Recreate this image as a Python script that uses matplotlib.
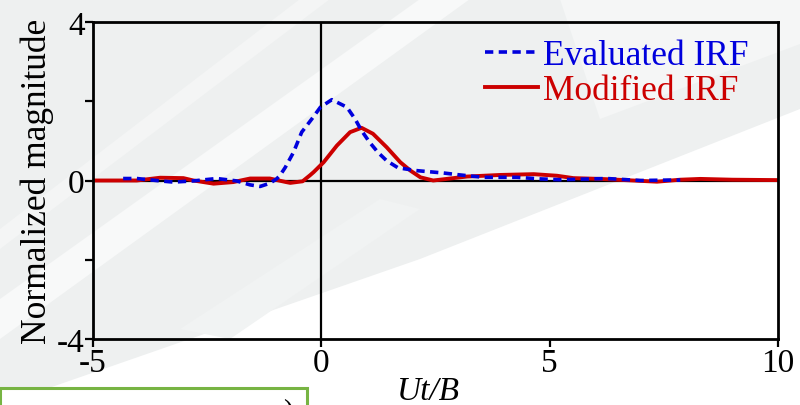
import matplotlib.pyplot as plt
import matplotlib.patches as mpatches
import numpy as np

plt.rcParams['font.family'] = ['Liberation Serif', 'DejaVu Serif']
plt.rcParams['axes.unicode_minus'] = False

# evaluated IRF (blue dashed)
t_eval = [-4.34, -4.04, -3.53, -3.24, -2.8, -2.29, -1.86, -1.56, -1.34, -1.13, -0.98, -0.91,
          -0.79, -0.61, -0.43, -0.21, -0.02, 0.23, 0.56, 0.74, 0.88, 1.06, 1.24, 1.43, 1.68,
          2.08, 2.67, 3.04, 3.55, 4.28, 4.8, 5.23, 6.25, 6.99, 7.57, 7.86]
y_eval = [0.05, 0.05, -0.01, -0.04, -0.01, 0.05, -0.01, -0.11, -0.15, -0.07, 0.04, 0.12,
          0.33, 0.71, 1.22, 1.55, 1.85, 2.04, 1.85, 1.55, 1.26, 0.96, 0.71, 0.50, 0.32,
          0.25, 0.19, 0.14, 0.08, 0.08, 0.04, 0.02, 0.05, 0.0, 0.01, 0.01]

# modified IRF (red solid)
t_mod = [-5.0, -4.04, -3.53, -3.02, -2.8, -2.36, -1.93, -1.56, -1.13, -0.77, -0.68, -0.41,
         -0.25, -0.17, 0.05, 0.34, 0.63, 0.88, 1.13, 1.43, 1.73, 1.95, 2.17, 2.45, 3.19, 3.92,
         4.65, 5.16, 5.52, 6.11, 6.83, 7.35, 7.86, 8.3, 9.0, 10.0]
y_mod = [0.0, 0.0, 0.07, 0.06, 0.0, -0.08, -0.04, 0.05, 0.05, -0.04, -0.06, -0.02,
         0.13, 0.21, 0.46, 0.88, 1.22, 1.33, 1.18, 0.84, 0.46, 0.25, 0.08, 0.0, 0.1, 0.14,
         0.16, 0.12, 0.06, 0.04, 0.0, -0.03, 0.02, 0.04, 0.02, 0.01]

fig = plt.figure(figsize=(8, 4.06), dpi=100)
fig.patch.set_facecolor('white')

# faded photo-like background, drawn in a back layer
bg = fig.add_axes([0, 0, 1, 1], zorder=0)
bg.set_xlim(0, 800)
bg.set_ylim(406, 0)
bg.axis('off')
bg.add_patch(mpatches.Polygon([(0, 0), (800, 0), (800, 110), (420, 260), (0, 406)],
                              facecolor='#eef0f0', edgecolor='none'))
bg.add_patch(mpatches.Polygon([(0, 300), (0, 340), (470, 0), (420, 0)],
                              facecolor='#f8f9f9', edgecolor='none'))
bg.add_patch(mpatches.Polygon([(0, 230), (0, 250), (330, 0), (300, 0)],
                              facecolor='#f4f5f5', edgecolor='none'))
bg.add_patch(mpatches.Polygon([(560, 0), (800, 0), (800, 45), (600, 120)],
                              facecolor='#f5f6f6', edgecolor='none'))
bg.add_patch(mpatches.Polygon([(180, 330), (380, 200), (420, 210), (230, 340)],
                              facecolor='#f1f3f3', edgecolor='none'))

ax = fig.add_axes([93 / 800, 1 - 340 / 406, (778 - 93) / 800, (340 - 23) / 406], zorder=1)
ax.patch.set_alpha(0)

ax.axhline(0, color='black', lw=1.6, zorder=1)
ax.axvline(0, color='black', lw=1.6, zorder=1)

ax.plot(t_eval, y_eval, color='#0000dd', lw=2.6, ls=(0, (2.3, 1.5)), zorder=3,
        label='Evaluated IRF', solid_joinstyle='round')
ax.plot(t_mod, y_mod, color='#cc0000', lw=2.8, zorder=2, label='Modified IRF',
        solid_joinstyle='round')

ax.set_xlim(-5, 10)
ax.set_ylim(-4, 4)
ax.set_xticks([-5, 0, 5, 10])
ax.set_yticks([-4, -2, 0, 2, 4])
ax.set_yticklabels(['-4', '', '0', '', '4'])
ax.tick_params(direction='out', length=6, width=1.6, labelsize=24, pad=0)
for s in ax.spines.values():
    s.set_linewidth(2)

ax.set_ylabel('Normalized magnitude', fontsize=25.5, labelpad=2)
ax.set_xlabel('Ut/B', fontsize=24, style='italic', labelpad=0)
ax.xaxis.set_label_coords(0.49, -0.115)

leg = ax.legend(loc='upper right', frameon=False, fontsize=25.5, handlelength=1.5,
                handletextpad=0.15, labelspacing=0.05, borderaxespad=0.0,
                bbox_to_anchor=(0.978, 0.99))
for txt, c in zip(leg.get_texts(), ['#0000dd', '#cc0000']):
    txt.set_color(c)

# green box from the slide at the lower left
fig.patches.append(mpatches.Rectangle((0.0, -0.05), 307 / 800, (406 - 389) / 406 + 0.05,
                                      transform=fig.transFigure, facecolor='white',
                                      edgecolor='#77b443', lw=2.2, zorder=3))
fig.text(283 / 800, -0.035, ')', fontsize=22, zorder=4)

fig.savefig('out.png', dpi=100)
